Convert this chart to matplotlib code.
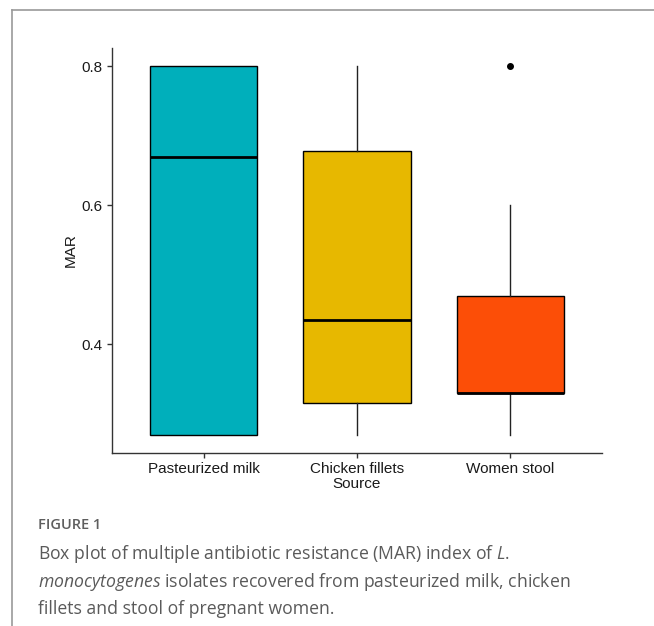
import matplotlib
matplotlib.use("Agg")
import matplotlib.pyplot as plt
from matplotlib.lines import Line2D

# 데이터
sources = ["Pasteurized milk", "Chicken fillets", "Women stool"]
q1 = [0.27, 0.315, 0.33]
median = [0.67, 0.435, 0.33]
q3 = [0.80, 0.678, 0.47]
whisker_low = [0.27, 0.27, 0.27]
whisker_high = [0.80, 0.80, 0.60]
outliers = [[], [], [0.80]]
box_colors = ["#00AFBB", "#E7B800", "#FC4E07"]
yticks = [0.4, 0.6, 0.8]

plt.rcParams['font.family'] = ['Liberation Sans', 'DejaVu Sans']
plt.rcParams['mathtext.fontset'] = 'custom'
plt.rcParams['mathtext.rm'] = 'Open Sans'
plt.rcParams['mathtext.it'] = 'Open Sans:italic'

fig = plt.figure(figsize=(6.54, 6.26), dpi=100)
ax = fig.add_axes([112 / 654, 1 - 453 / 626, 490 / 654, 405 / 626])

stats = []
for i, name in enumerate(sources):
    stats.append(dict(label=name, q1=q1[i], med=median[i], q3=q3[i],
                      whislo=whisker_low[i], whishi=whisker_high[i], fliers=outliers[i]))

bp = ax.bxp(stats, positions=[1, 2, 3], widths=0.7, patch_artist=True, showcaps=False,
            boxprops=dict(edgecolor="black", linewidth=1.0),
            whiskerprops=dict(color="#222222", linewidth=1.0),
            medianprops=dict(color="black", linewidth=2.0),
            flierprops=dict(marker="o", markerfacecolor="black", markeredgecolor="black", markersize=4))
for patch, c in zip(bp["boxes"], box_colors):
    patch.set_facecolor(c)

ax.set_xlim(0.4, 3.6)
lo, hi = min(whisker_low), max(max(whisker_high), max(max(o) for o in outliers if o))
pad = (hi - lo) * 0.05
ax.set_ylim(lo - pad, hi + pad)
ax.set_yticks(yticks)
ax.set_yticklabels([f"{v:.1f}" for v in yticks])

for s in ["top", "right"]:
    ax.spines[s].set_visible(False)
for s in ["left", "bottom"]:
    ax.spines[s].set_color("#333333")
    ax.spines[s].set_linewidth(1.0)
ax.tick_params(axis="both", length=3.5, width=1.0, color="#333333", labelsize=11, labelcolor="#1a1a1a", pad=3)

ax.set_xlabel("Source", fontsize=11, labelpad=1, color="#1a1a1a")
ax.set_ylabel("MAR", fontsize=11, labelpad=3, color="#1a1a1a")

# 바깥 테두리
fig.add_artist(Line2D([12 / 654, 1], [1 - 10 / 626, 1 - 10 / 626], color="#9a9a9a", linewidth=1.2))
fig.add_artist(Line2D([12 / 654, 12 / 654], [0, 1 - 10 / 626], color="#9a9a9a", linewidth=1.2))

# 캡션
cap_font = ['Open Sans', 'DejaVu Sans']
x0 = 38 / 654
fig.text(x0, 1 - 525 / 626, "FIGURE 1", fontsize=10.5, color="#5e5e5e", family=cap_font,
         fontweight="semibold", va="center", ha="left")
fig.text(x0, 1 - 554 / 626, "Box plot of multiple antibiotic resistance (MAR) index of $\\it{L.}$",
         fontsize=12.7, color="#5a5a5a", family=cap_font, va="center", ha="left")
fig.text(x0, 1 - 582 / 626, "$\\it{monocytogenes}$ isolates recovered from pasteurized milk, chicken",
         fontsize=12.7, color="#5a5a5a", family=cap_font, va="center", ha="left")
fig.text(x0, 1 - 609 / 626, "fillets and stool of pregnant women.",
         fontsize=12.7, color="#5a5a5a", family=cap_font, va="center", ha="left")

fig.savefig("out.png", dpi=100)
